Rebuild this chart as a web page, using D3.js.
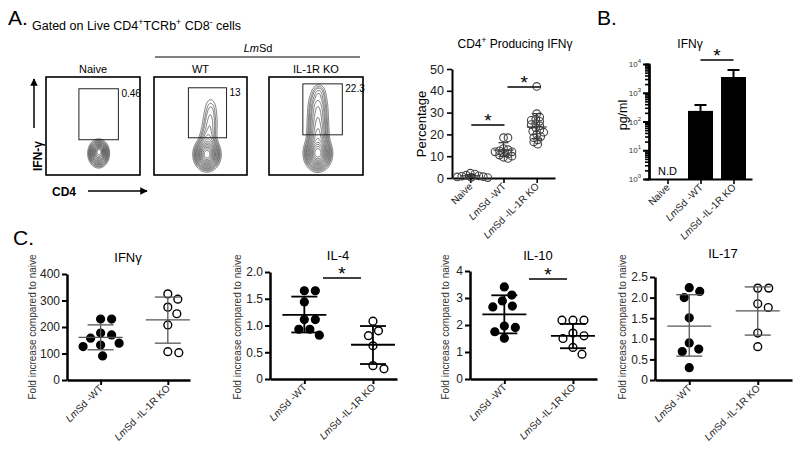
<!DOCTYPE html>
<html><head><meta charset="utf-8">
<script src="https://cdn.jsdelivr.net/npm/d3@7"></script>
<style>
body{margin:0;background:#fff}
svg{font-family:"Liberation Sans",Arial,sans-serif}
</style></head><body>
<svg id="c" width="800" height="456"></svg>
<script>
// ---------------- DATA ----------------
// Panel A flow plots: Gaussian components [cx, cy, sx, sy, weight] in 0-100 fluorescence units
const flowGroups = ["Naive", "WT", "IL-1R KO"];
const flowGatePct = ["0.46", "13", "22.3"];
const flowNaive = [[56, 22, 4.3, 5.5, 1], [57, 25, 2.5, 3, 0.35]];
const flowWT = [[57, 21, 5.5, 6.5, 1], [58, 36, 4.5, 7, 0.13], [60, 51, 4.5, 8, 0.08], [61, 66, 4, 8, 0.05]];
const flowKO = [[52, 22, 5.7, 7, 1], [52, 39, 5, 8, 0.3], [52, 55, 5, 9, 0.22], [52, 71, 5, 8, 0.14], [53, 84, 4, 5, 0.06]];
const flowGates = [[35, 77, 36, 88], [37, 78, 38, 89], [36, 78, 41, 93]]; // x0,x1,y0,y1
const flowLevels = [0.02, 0.035, 0.05, 0.075, 0.1, 0.14, 0.19, 0.25, 0.32, 0.4, 0.5, 0.6, 0.72, 0.85];

// Panel A scatter: % CD4 producing IFNγ
const pctCats = ["Naive", "WT", "KO"];
const pctNaive = [2.2, 1.8, 1.3, 1.0, 0.8, 0.6, 0.5, 0.3, 0.2];
const pctWT = [18.5, 18.5, 13.5, 13, 12.5, 12, 12, 11.5, 11, 10.5, 10, 9.5, 9];
const pctKO = [42, 29.5, 28, 27, 26.5, 26, 25, 24.5, 24, 23, 22, 21.5, 21, 20, 19, 18.5, 17.5, 16.5, 15.5];
const pctMean = [1.0, 12.8, 23.4];
const pctLo = [0.4, 10.0, 18.0];
const pctHi = [1.6, 16.2, 29.5];
const pctTicks = [0, 10, 20, 30, 40, 50];

// Panel B: IFNγ pg/ml (log)
const ifnCats = ["Naive", "WT", "KO"];
const ifnValues = [null, 234, 3530];
const ifnErrHi = [null, 375, 6200];
const ifnMajor = [1, 10, 100, 1000, 10000];

// Panel C: fold increase compared to naive
const cCats = ["WT", "KO"];
const cIfngWT = [230, 230, 177, 170, 158, 139, 132, 126, 91];
const cIfngKO = [325, 305, 275, 250, 208, 107, 103];
const cIfngMean = [161, 227], cIfngLo = [114, 139], cIfngHi = [208, 313];
const cIl4WT = [1.65, 1.65, 1.44, 1.11, 1.11, 0.93, 0.93, 0.82];
const cIl4KO = [1.08, 0.90, 0.81, 0.62, 0.25, 0.19];
const cIl4Mean = [1.2, 0.64], cIl4Lo = [0.87, 0.28], cIl4Hi = [1.54, 0.99];
const cIl10WT = [3.41, 3.11, 2.89, 2.70, 2.67, 1.96, 1.91, 1.75, 1.51];
const cIl10KO = [2.18, 2.18, 2.18, 1.7, 1.6, 1.5, 1.17, 0.92];
const cIl10Mean = [2.39, 1.6], cIl10Lo = [1.69, 1.14], cIl10Hi = [3.10, 2.04];
const cIl17WT = [2.24, 2.15, 2.0, 1.51, 0.90, 0.75, 0.69, 0.30];
const cIl17KO = [2.23, 2.23, 1.85, 1.76, 1.14, 0.81];
const cIl17Mean = [1.31, 1.68], cIl17Lo = [0.58, 1.09], cIl17Hi = [2.07, 2.26];

// ---------------- DRAWING ----------------
const svg = d3.select("#c");

function sup(t, txt) {
  t.append("tspan").attr("baseline-shift", "super").attr("font-size", "0.7em").text(txt);
}
function lmLabel(t, rest) {
  t.append("tspan").attr("font-style", "italic").text("Lm");
  t.append("tspan").text(rest);
}

function swarm(values, yScale, cx, minDist) {
  const placed = [];
  const idx = values.map((v, i) => i).sort((a, b) => values[b] - values[a]);
  const out = new Array(values.length);
  for (const i of idx) {
    const y = yScale(values[i]);
    let x = cx;
    for (let k = 0; k < 400; k++) {
      const o = (k % 2 === 1 ? 1 : -1) * Math.ceil(k / 2) * 0.5;
      if (placed.every(p => Math.hypot(p.x - (cx + o), p.y - y) >= minDist)) { x = cx + o; break; }
    }
    placed.push({x, y});
    out[i] = {x, y, v: values[i]};
  }
  return out;
}

function styleAxis(g, w) {
  g.select(".domain").attr("stroke", "#000").attr("stroke-width", w);
  g.selectAll(".tick line").attr("stroke", "#000").attr("stroke-width", w * 0.8);
  g.selectAll(".tick text").attr("font-size", 12).attr("fill", "#222");
}

// Panel letters
svg.append("text").attr("x", 8).attr("y", 25).attr("font-size", 21).text("A.");
svg.append("text").attr("x", 597).attr("y", 25).attr("font-size", 21).text("B.");
svg.append("text").attr("x", 13).attr("y", 245).attr("font-size", 21).text("C.");

// Panel A header
{
  const t = svg.append("text").attr("x", 32).attr("y", 30).attr("font-size", 12.5);
  t.append("tspan").text("Gated on Live CD4");
  sup(t, "+");
  t.append("tspan").text("TCRb");
  sup(t, "+");
  t.append("tspan").text(" CD8");
  sup(t, "-");
  t.append("tspan").text(" cells");
  svg.append("line").attr("x1", 155).attr("x2", 360).attr("y1", 57).attr("y2", 57).attr("stroke", "#000").attr("stroke-width", 1);
  const l = svg.append("text").attr("x", 258).attr("y", 52).attr("text-anchor", "middle").attr("font-size", 11);
  lmLabel(l, "Sd");
}

// Flow plots
const flowBoxes = [{x: 46, w: 94}, {x: 154, w: 93}, {x: 269, w: 94}];
const flowComps = [flowNaive, flowWT, flowKO];
flowBoxes.forEach((b, k) => {
  const top = 77, h = 98;
  const fx = d3.scaleLinear().domain([0, 100]).range([b.x, b.x + b.w]);
  const fy = d3.scaleLinear().domain([0, 100]).range([top + h, top]);
  const g = svg.append("g");
  const n = 120, m = 120;
  const vals = new Array(n * m);
  let max = 0;
  for (let j = 0; j < m; j++) for (let i = 0; i < n; i++) {
    const dx = (i + 0.5) / n * 100, dy = 100 - (j + 0.5) / m * 100;
    let v = 0;
    for (const c of flowComps[k]) v += c[4] * Math.exp(-((dx - c[0]) ** 2 / (2 * c[2] ** 2) + (dy - c[1]) ** 2 / (2 * c[3] ** 2)));
    vals[j * n + i] = v; if (v > max) max = v;
  }
  const cont = d3.contours().size([n, m]).thresholds(flowLevels.map(t => t * max))(vals);
  const proj = d3.geoTransform({point: function(x, y) { this.stream.point(fx(x / n * 100), fy(100 - y / m * 100)); }});
  const clipId = "clip" + k;
  svg.append("clipPath").attr("id", clipId).append("rect").attr("x", b.x).attr("y", top).attr("width", b.w).attr("height", h);
  g.attr("clip-path", `url(#${clipId})`).selectAll("path").data(cont).join("path")
    .attr("d", d3.geoPath(proj)).attr("fill", "none").attr("stroke", "#222").attr("stroke-width", 0.6);
  svg.append("rect").attr("x", b.x).attr("y", top).attr("width", b.w).attr("height", h)
    .attr("fill", "none").attr("stroke", "#000").attr("stroke-width", 1.6);
  const gt = flowGates[k];
  svg.append("rect").attr("x", fx(gt[0])).attr("y", fy(gt[3])).attr("width", fx(gt[1]) - fx(gt[0])).attr("height", fy(gt[2]) - fy(gt[3]))
    .attr("fill", "none").attr("stroke", "#222").attr("stroke-width", 1);
  svg.append("text").attr("x", fx(gt[1]) + 3).attr("y", fy(gt[3]) + 8).attr("font-size", 10).text(flowGatePct[k]);
  svg.append("text").attr("x", b.x + b.w / 2).attr("y", 73).attr("text-anchor", "middle").attr("font-size", 11).text(flowGroups[k]);
});
// axis arrows
svg.append("defs").append("marker").attr("id", "arr").attr("viewBox", "0 0 10 10").attr("refX", 9).attr("refY", 5)
  .attr("markerWidth", 5).attr("markerHeight", 5).attr("orient", "auto")
  .append("path").attr("d", "M0,0L10,5L0,10z").attr("fill", "#000");
svg.append("line").attr("x1", 34).attr("x2", 34).attr("y1", 128).attr("y2", 79).attr("stroke", "#000").attr("stroke-width", 1.5).attr("marker-end", "url(#arr)");
svg.append("text").attr("transform", "translate(42,156) rotate(-90)").attr("text-anchor", "middle").attr("font-size", 12).attr("font-weight", "bold").text("IFN-γ");
svg.append("text").attr("x", 52).attr("y", 196).attr("font-size", 12).attr("font-weight", "bold").text("CD4");
svg.append("line").attr("x1", 88).attr("x2", 147).attr("y1", 191).attr("y2", 191).attr("stroke", "#000").attr("stroke-width", 1.5).attr("marker-end", "url(#arr)");

function catLabels(g, scale, cats, texts, y0) {
  cats.forEach((c, i) => {
    const t = g.append("text").attr("transform", `translate(${scale(c) + 3},${y0 + 9}) rotate(-45)`)
      .attr("text-anchor", "end").attr("font-size", 10).attr("fill", "#222");
    const s = texts[i];
    if (s.startsWith("Lm")) lmLabel(t, s.slice(2)); else t.text(s);
  });
}

function sigBar(x1, x2, y) {
  svg.append("line").attr("x1", x1).attr("x2", x2).attr("y1", y).attr("y2", y).attr("stroke", "#000").attr("stroke-width", 1.3);
  svg.append("text").attr("x", (x1 + x2) / 2).attr("y", y + 2).attr("text-anchor", "middle").attr("font-size", 19).text("*");
}

// Panel A scatter
{
  const x = d3.scalePoint().domain(pctCats).range([452, 555]).padding(0.55);
  const y = d3.scaleLinear().domain([0, 50]).range([178, 69]);
  const g = svg.append("g");
  const ga = g.append("g").attr("transform", "translate(452,0)").call(d3.axisLeft(y).tickValues(pctTicks).tickSize(5).tickSizeOuter(0).tickPadding(3));
  styleAxis(ga, 2);
  ga.selectAll(".tick text").attr("font-size", 12.5);
  const gb = g.append("g").attr("transform", "translate(0,178)").call(d3.axisBottom(x).tickSize(5).tickSizeOuter(0).tickFormat(""));
  styleAxis(gb, 2);
  catLabels(g, x, pctCats, ["Naive", "LmSd -WT", "LmSd -IL-1R KO"], 178);
  svg.append("text").attr("transform", "translate(426,124) rotate(-90)").attr("text-anchor", "middle").attr("font-size", 13).text("Percentage");
  const tt = svg.append("text").attr("x", 515).attr("y", 48).attr("text-anchor", "middle").attr("font-size", 12);
  tt.append("tspan").text("CD4"); sup(tt, "+"); tt.append("tspan").text(" Producing IFNγ");
  [pctNaive, pctWT, pctKO].forEach((arr, i) => {
    const pts = swarm(arr, y, x(pctCats[i]), 4.2);
    g.selectAll(null).data(pts).join("circle").attr("cx", d => d.x).attr("cy", d => d.y).attr("r", 3.8)
      .attr("fill", "none").attr("stroke", "#444").attr("stroke-width", 1.1);
    const cx = x(pctCats[i]);
    g.append("line").attr("x1", cx - 10).attr("x2", cx + 10).attr("y1", y(pctMean[i])).attr("y2", y(pctMean[i])).attr("stroke", "#333").attr("stroke-width", 1.2);
    g.append("line").attr("x1", cx).attr("x2", cx).attr("y1", y(pctLo[i])).attr("y2", y(pctHi[i])).attr("stroke", "#333").attr("stroke-width", 1.2);
    [pctLo[i], pctHi[i]].forEach(v => g.append("line").attr("x1", cx - 5).attr("x2", cx + 5).attr("y1", y(v)).attr("y2", y(v)).attr("stroke", "#333").attr("stroke-width", 1.2));
  });
  sigBar(x("Naive") + 1, x("WT") + 1, 125);
  sigBar(x("WT") + 4, x("KO") + 4, 87);
}

// Panel B
{
  const x = d3.scalePoint().domain(ifnCats).range([649, 752]).padding(0.56);
  const y = d3.scaleLog().domain([1, 1e4]).range([179, 64]);
  const g = svg.append("g");
  const minor = [];
  for (let e = 0; e < 4; e++) for (let k = 2; k <= 9; k++) minor.push(k * 10 ** e);
  const gm = g.append("g").attr("transform", "translate(649,0)").call(d3.axisLeft(y).tickValues(minor).tickSize(4).tickFormat(""));
  styleAxis(gm, 2);
  const ga = g.append("g").attr("transform", "translate(649,0)").call(d3.axisLeft(y).tickValues(ifnMajor).tickSize(6).tickSizeOuter(0).tickFormat(""));
  styleAxis(ga, 2.5);
  ifnMajor.forEach(v => {
    const t = g.append("text").attr("x", 641).attr("y", y(v) + 3).attr("text-anchor", "end").attr("font-size", 8).attr("fill", "#333");
    t.append("tspan").text("10");
    t.append("tspan").attr("dy", -4).attr("font-size", 6).text(Math.round(Math.log10(v)));
  });
  const gb = g.append("g").attr("transform", "translate(0,179)").call(d3.axisBottom(x).tickSize(5).tickSizeOuter(0).tickFormat(""));
  styleAxis(gb, 2);
  catLabels(g, x, ifnCats, ["Naive", "LmSd -WT", "LmSd -IL-1R KO"], 179);
  svg.append("text").attr("transform", "translate(627,115) rotate(-90)").attr("text-anchor", "middle").attr("font-size", 12.5).text("pg/ml");
  svg.append("text").attr("x", 690).attr("y", 48).attr("text-anchor", "middle").attr("font-size", 12).text("IFNγ");
  ifnCats.forEach((c, i) => {
    if (ifnValues[i] == null) {
      g.append("text").attr("x", x(c)).attr("y", 175).attr("text-anchor", "middle").attr("font-size", 11).text("N.D");
      return;
    }
    const cx = x(c);
    g.append("line").attr("x1", cx).attr("x2", cx).attr("y1", y(ifnValues[i])).attr("y2", y(ifnErrHi[i])).attr("stroke", "#000").attr("stroke-width", 2);
    g.append("line").attr("x1", cx - 6).attr("x2", cx + 6).attr("y1", y(ifnErrHi[i])).attr("y2", y(ifnErrHi[i])).attr("stroke", "#000").attr("stroke-width", 2);
    g.append("rect").attr("x", cx - 12.5).attr("width", 25).attr("y", y(ifnValues[i])).attr("height", y(1) - y(ifnValues[i])).attr("fill", "#000");
  });
  sigBar(x("WT"), x("KO"), 60);
}

// Panel C
const cPanels = [
  {title: "IFNγ", wt: cIfngWT, ko: cIfngKO, mean: cIfngMean, lo: cIfngLo, hi: cIfngHi, dom: [0, 400], ticks: [0, 100, 200, 300, 400], fmt: d3.format("d"),
   left: 67, right: 190, y0: 380, y1: 274, xmax: 1.33, tx: 128, ty: 262, lx: 36, col: "#555", lw: 1.3, sig: null},
  {title: "IL-4", wt: cIl4WT, ko: cIl4KO, mean: cIl4Mean, lo: cIl4Lo, hi: cIl4Hi, dom: [0, 2], ticks: [0, 0.5, 1, 1.5, 2], fmt: d => d === 0 ? "0" : d3.format(".1f")(d),
   left: 270, right: 397, y0: 379, y1: 272, xmax: 1.35, tx: 338, ty: 260, lx: 241, col: "#000", lw: 1.8, sig: [323, 361, 278]},
  {title: "IL-10", wt: cIl10WT, ko: cIl10KO, mean: cIl10Mean, lo: cIl10Lo, hi: cIl10Hi, dom: [0, 4], ticks: [0, 1, 2, 3, 4], fmt: d3.format("d"),
   left: 470, right: 597, y0: 379, y1: 271, xmax: 1.35, tx: 538, ty: 260, lx: 449, col: "#000", lw: 1.8, sig: [529, 567, 279]},
  {title: "IL-17", wt: cIl17WT, ko: cIl17KO, mean: cIl17Mean, lo: cIl17Lo, hi: cIl17Hi, dom: [0, 2.5], ticks: [0, 0.5, 1, 1.5, 2, 2.5], fmt: d => d === 0 ? "0" : d3.format(".1f")(d),
   left: 655, right: 792, y0: 380, y1: 277, xmax: 1.5, tx: 723, ty: 258, lx: 626, col: "#555", lw: 1.3, sig: null}
];
cPanels.forEach(p => {
  const xi = d3.scaleLinear().domain([-0.5, p.xmax]).range([p.left, p.right]);
  const x = c => xi(cCats.indexOf(c));
  const y = d3.scaleLinear().domain(p.dom).range([p.y0, p.y1]);
  const g = svg.append("g");
  const ga = g.append("g").attr("transform", `translate(${p.left},0)`).call(d3.axisLeft(y).tickValues(p.ticks).tickFormat(p.fmt).tickSize(5).tickSizeOuter(0).tickPadding(2));
  styleAxis(ga, 2.5);
  const gb = g.append("g").attr("transform", `translate(0,${p.y0})`).call(d3.axisBottom(xi).tickValues([0, 1]).tickSize(5).tickSizeOuter(0).tickFormat(""));
  styleAxis(gb, 2.5);
  catLabels(g, x, cCats, ["LmSd -WT", "LmSd -IL-1R KO"], p.y0);
  svg.append("text").attr("transform", `translate(${p.lx},327) rotate(-90)`).attr("text-anchor", "middle").attr("font-size", 10).attr("fill", "#333").text("Fold increase compared to naive");
  svg.append("text").attr("x", p.tx).attr("y", p.ty).attr("text-anchor", "middle").attr("font-size", 13).text(p.title);
  [p.wt, p.ko].forEach((arr, i) => {
    const cx = x(cCats[i]);
    const pts = swarm(arr, y, cx, 11);
    g.selectAll(null).data(pts).join("circle").attr("cx", d => d.x).attr("cy", d => d.y).attr("r", 3.9)
      .attr("fill", i === 0 ? "#000" : "#fff").attr("stroke", "#000").attr("stroke-width", 1.4);
    g.append("line").attr("x1", cx - 22).attr("x2", cx + 22).attr("y1", y(p.mean[i])).attr("y2", y(p.mean[i])).attr("stroke", p.col).attr("stroke-width", p.lw);
    g.append("line").attr("x1", cx).attr("x2", cx).attr("y1", y(p.lo[i])).attr("y2", y(p.hi[i])).attr("stroke", p.col).attr("stroke-width", p.lw);
    [p.lo[i], p.hi[i]].forEach(v => g.append("line").attr("x1", cx - 13).attr("x2", cx + 13).attr("y1", y(v)).attr("y2", y(v)).attr("stroke", p.col).attr("stroke-width", p.lw));
  });
  if (p.sig) sigBar(p.sig[0], p.sig[1], p.sig[2]);
});
</script>
</body></html>
